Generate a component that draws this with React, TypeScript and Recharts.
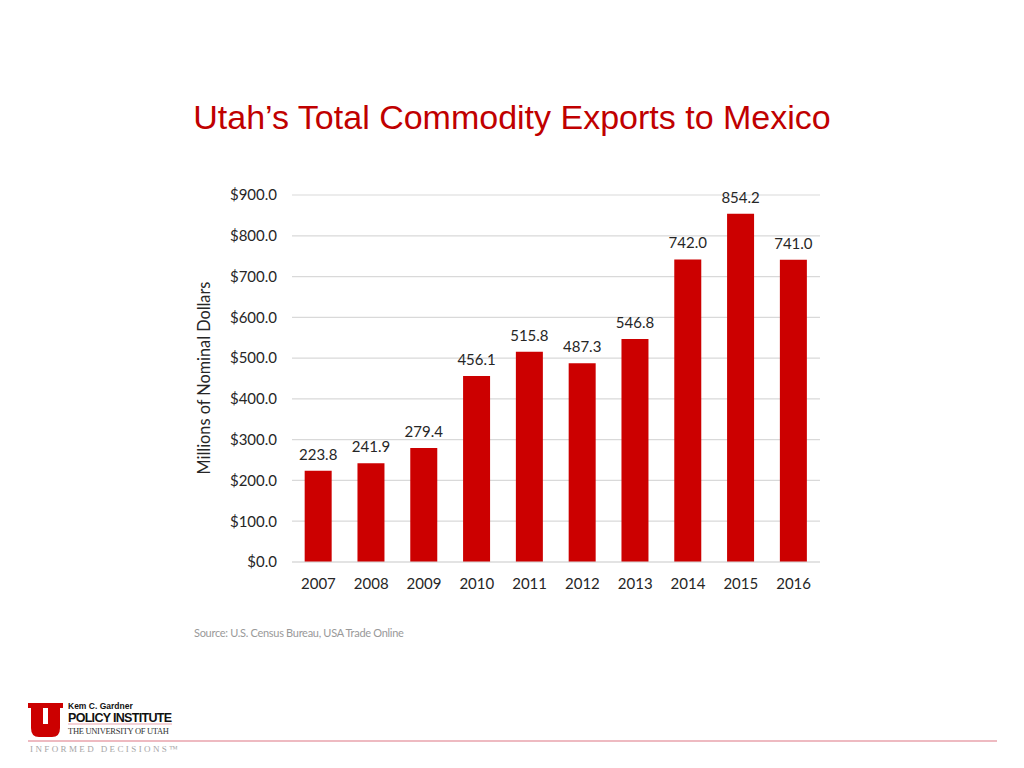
import { BarChart, Bar, XAxis, YAxis, CartesianGrid, LabelList } from "recharts";

const years = ["2007", "2008", "2009", "2010", "2011", "2012", "2013", "2014", "2015", "2016"];
const exportsMillions = [223.8, 241.9, 279.4, 456.1, 515.8, 487.3, 546.8, 742.0, 854.2, 741.0];
const yTicks = [0, 100, 200, 300, 400, 500, 600, 700, 800, 900];

const data = years.map((year, i) => ({ year, value: exportsMillions[i] }));

const tickFont = { fontFamily: "Lato, 'Open Sans', sans-serif", fontSize: 15, fill: "#262626" };

export default function App() {
  return (
    <div style={{ position: "absolute", left: 0, top: 0, width: 1024, height: 768, background: "#fff", overflow: "hidden" }}>
      <div
        style={{
          position: "absolute",
          top: 98,
          width: 1024,
          textAlign: "center",
          fontFamily: "'Liberation Sans', Arial, sans-serif",
          fontSize: 34,
          lineHeight: "38px",
          color: "#c00000",
        }}
      >
        Utah’s Total Commodity Exports to Mexico
      </div>

      <div style={{ position: "absolute", left: 0, top: 0 }}>
        <BarChart
          width={1024}
          height={768}
          data={data}
          margin={{ top: 195, right: 204, bottom: 176, left: 212 }}
          barCategoryGap="24%"
        >
          <CartesianGrid vertical={false} stroke="#d9d9d9" strokeWidth={1.2} />
          <XAxis
            dataKey="year"
            height={30}
            tickLine={false}
            tickSize={0}
            tickMargin={16}
            axisLine={{ stroke: "#d9d9d9", strokeWidth: 1.2 }}
            tick={tickFont}
          />
          <YAxis
            width={80}
            domain={[0, 900]}
            ticks={yTicks}
            interval={0}
            tickLine={false}
            axisLine={false}
            tickSize={0}
            tickMargin={15}
            tick={tickFont}
            tickFormatter={(v: number) => "$" + v.toFixed(1)}
          />
          <Bar dataKey="value" fill="#cc0000" isAnimationActive={false}>
            <LabelList
              dataKey="value"
              position="top"
              offset={11}
              formatter={(v: number) => v.toFixed(1)}
              style={{ fontFamily: "Lato, 'Open Sans', sans-serif", fontSize: 15, fill: "#262626" }}
            />
          </Bar>
        </BarChart>
      </div>

      <div
        style={{
          position: "absolute",
          left: 203,
          top: 378,
          transform: "translate(-50%, -50%) rotate(-90deg)",
          whiteSpace: "nowrap",
          fontFamily: "Lato, 'Open Sans', sans-serif",
          fontSize: 16.3,
          color: "#262626",
        }}
      >
        Millions of Nominal Dollars
      </div>

      <div
        style={{
          position: "absolute",
          left: 194,
          top: 626,
          fontFamily: "Lato, 'Open Sans', sans-serif",
          fontSize: 11,
          letterSpacing: -0.3,
          color: "#999999",
        }}
      >
        Source: U.S. Census Bureau, USA Trade Online
      </div>

      <svg style={{ position: "absolute", left: 0, top: 0 }} width={1024} height={768}>
        <path
          d="M28,703 H46 V708 H43 V724 H48 V708 H45 V703 H63 V708 H60 V728 Q60,737 52,737 H39 Q31,737 31,728 V708 H28 Z"
          fill="#cc0000"
        />
        <line x1={28} y1={741} x2={997} y2={741} stroke="#e9a3ad" strokeWidth={1.5} />
        <line x1={68} y1={724} x2={172} y2={724} stroke="#e9a3ad" strokeWidth={1} />
        <text x={68} y={709} fontFamily="'Liberation Sans', Arial, sans-serif" fontWeight="bold" fontSize={8.5} fill="#111">
          Kem C. Gardner
        </text>
        <text x={68} y={722} fontFamily="'Liberation Sans', Arial, sans-serif" fontWeight="bold" fontSize={12.5} fill="#111" textLength={104}>
          POLICY INSTITUTE
        </text>
        <text x={68} y={734} fontFamily="'Liberation Serif', serif" fontSize={8.5} fill="#333" textLength={101}>
          THE UNIVERSITY OF UTAH
        </text>
        <text x={30} y={752} fontFamily="'Liberation Serif', serif" fontSize={9} fill="#a6a6a6" textLength={148}>
          INFORMED DECISIONS™
        </text>
      </svg>
    </div>
  );
}
